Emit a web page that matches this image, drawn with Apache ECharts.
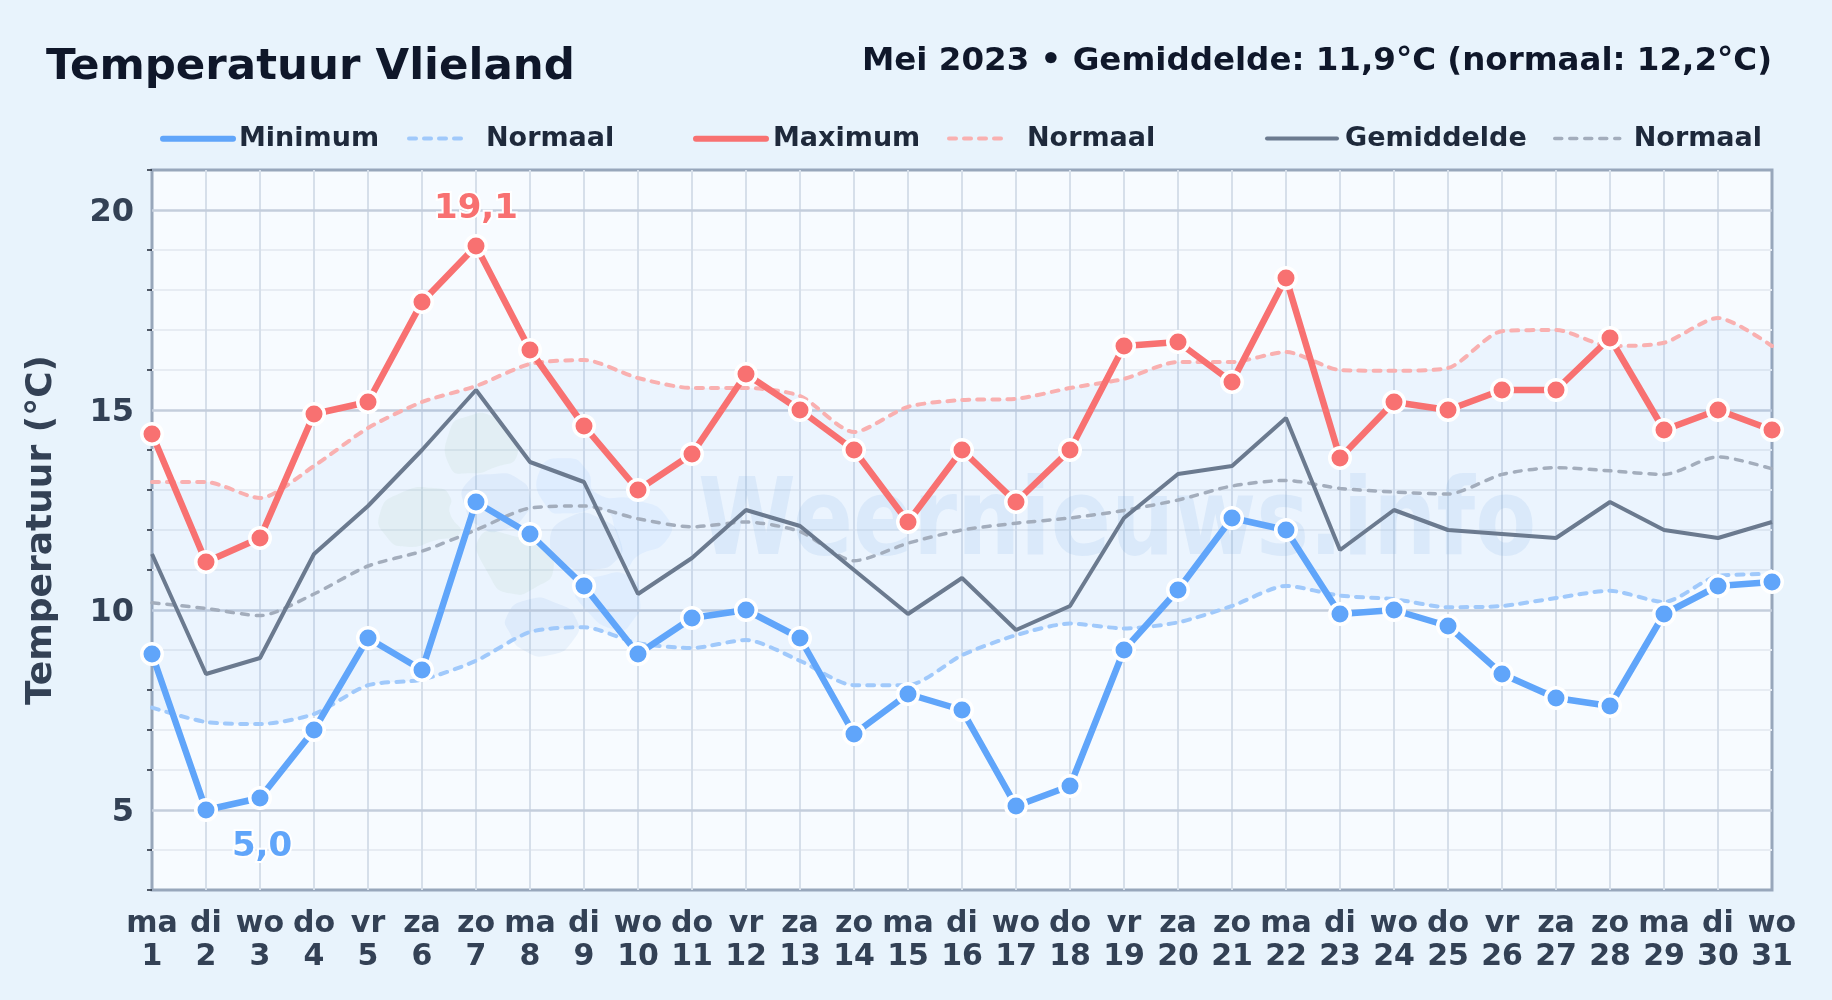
<!DOCTYPE html>
<html>
<head>
<meta charset="utf-8">
<style>html,body{margin:0;padding:0;background:#e8f3fc}#c{width:1832px;height:1000px}</style>
<script src="https://cdn.jsdelivr.net/npm/echarts@6/dist/echarts.min.js"></script>
</head>
<body>
<div id="c"></div>
<script>
const categories = ['ma\n1','di\n2','wo\n3','do\n4','vr\n5','za\n6','zo\n7','ma\n8','di\n9','wo\n10','do\n11','vr\n12','za\n13','zo\n14','ma\n15','di\n16','wo\n17','do\n18','vr\n19','za\n20','zo\n21','ma\n22','di\n23','wo\n24','do\n25','vr\n26','za\n27','zo\n28','ma\n29','di\n30','wo\n31'];
const minimum = [8.9,5.0,5.3,7.0,9.3,8.5,12.7,11.9,10.6,8.9,9.8,10.0,9.3,6.9,7.9,7.5,5.1,5.6,9.0,10.5,12.3,12.0,9.9,10.0,9.6,8.4,7.8,7.6,9.9,10.6,10.7];
const maximum = [14.4,11.2,11.8,14.9,15.2,17.7,19.1,16.5,14.6,13.0,13.9,15.9,15.0,14.0,12.2,14.0,12.7,14.0,16.6,16.7,15.7,18.3,13.8,15.2,15.0,15.5,15.5,16.8,14.5,15.0,14.5];
const gemiddelde = [11.4,8.4,8.8,11.4,12.6,14.0,15.5,13.7,13.2,10.4,11.3,12.5,12.1,11.0,9.9,10.8,9.5,10.1,12.3,13.4,13.6,14.8,11.5,12.5,12.0,11.9,11.8,12.7,12.0,11.8,12.2];
const normaalMin = [7.56,7.2,7.15,7.4,8.12,8.26,8.73,9.45,9.57,9.17,9.05,9.25,8.73,8.12,8.12,8.87,9.37,9.66,9.54,9.69,10.1,10.6,10.36,10.27,10.07,10.1,10.3,10.48,10.2,10.85,10.9];
const normaalMax = [13.2,13.2,12.8,13.6,14.55,15.2,15.6,16.15,16.25,15.8,15.55,15.55,15.35,14.45,15.08,15.25,15.28,15.55,15.78,16.2,16.2,16.45,16.0,15.98,16.05,16.97,17.0,16.6,16.68,17.3,16.6];
const normaalGem = [10.18,10.04,9.86,10.4,11.1,11.47,12.0,12.55,12.6,12.28,12.08,12.2,11.96,11.23,11.67,12.0,12.17,12.3,12.49,12.75,13.1,13.24,13.04,12.95,12.9,13.39,13.56,13.48,13.39,13.83,13.53];
const majorTicks = [5,10,15,20];
const minorTicks = [3,4,6,7,8,9,11,12,13,14,16,17,18,19,21];
const maxLabelDay = 6, minLabelDay = 1;

const FONT = '"DejaVu Sans"';
const fmt = v => v.toFixed(1).replace('.', ',');
const SMOOTH = 0.25;
const DASH = [7, 8];

function mainData(arr, idx, color, labelPos) {
  return arr.map((v, i) => i === idx ? {
    value: v,
    label: Object.assign({ show: true, formatter: p => fmt(p.value), color, fontFamily: FONT, fontWeight: 'bold', fontSize: 34,
      textBorderColor: '#ffffff', textBorderWidth: 4 }, labelPos)
  } : v);
}
function legendAt(name, left, width, pad, lw, dashed) {
  return { data: [name], left, top: 120, itemWidth: width, itemHeight: 32,
    itemStyle: { opacity: 0 }, selectedMode: false, formatter: n => n.split(' ')[0],
    lineStyle: { width: lw, type: dashed ? DASH : 'solid', cap: 'round' },
    textStyle: { fontFamily: FONT, fontWeight: 'bold', fontSize: 27, color: '#1e293b', padding: [0,0,0,pad] } };
}
function blob(points, fill) {
  return { type: 'polygon', z: 1, silent: true, shape: { points, smooth: 0.6 }, style: { fill } };
}
const GREEN = 'rgba(120,180,120,0.075)', BLUE = 'rgba(60,130,215,0.07)', BLUE2 = 'rgba(90,170,250,0.08)';

const chart = echarts.init(document.getElementById('c'));
chart.setOption({
  animation: false,
  backgroundColor: '#e8f3fc',
  title: [
    { text: 'Temperatuur Vlieland', left: 41, top: 41, textStyle: { fontFamily: FONT, fontWeight: 'bold', fontSize: 43.5, color: '#0f172a' } },
    { text: 'Mei 2023 • Gemiddelde: 11,9°C (normaal: 12,2°C)', right: 55, top: 40, textStyle: { fontFamily: FONT, fontWeight: 'bold', fontSize: 32.5, color: '#0f172a' } }
  ],
  legend: [
    legendAt('Minimum', 155, 70, 1, 6, false),
    legendAt('Normaal min', 402, 57, 15, 4, true),
    legendAt('Maximum', 688, 70, 2, 6, false),
    legendAt('Normaal max', 942, 58, 15, 4, true),
    legendAt('Gemiddelde', 1260, 70, 3, 4, false),
    legendAt('Normaal gem', 1548, 65, 9, 3.5, true)
  ],
  grid: { left: 152, right: 60, top: 170, height: 720, show: true, backgroundColor: '#f7fbff', borderColor: '#98a7bb', borderWidth: 3, z: 0 },
  xAxis: {
    type: 'category', data: categories, boundaryGap: false,
    axisLine: { show: false }, axisTick: { show: false },
    axisLabel: { interval: 0, margin: 17, fontFamily: FONT, fontWeight: 'bold', fontSize: 30, lineHeight: 33.5, color: '#334155', hideOverlap: false },
    splitLine: { show: true, interval: 0, showMinLine: false, showMaxLine: false, lineStyle: { color: '#d6dfea', width: 2 } }
  },
  yAxis: {
    type: 'value', min: 3, max: 21, interval: 1,
    name: 'Temperatuur (°C)', nameLocation: 'middle', nameGap: 92, nameRotate: 90,
    nameTextStyle: { fontFamily: FONT, fontWeight: 'bold', fontSize: 36, color: '#334155' },
    axisLine: { show: false },
    axisTick: { show: true, length: 5, customValues: minorTicks, lineStyle: { color: '#1f2937', width: 1.5 } },
    axisLabel: { margin: 18, verticalAlign: 'top', lineHeight: 5, fontFamily: FONT, fontWeight: 'bold', fontSize: 32, color: '#334155', showMinLabel: true, showMaxLabel: true,
      formatter: v => majorTicks.includes(v) ? String(v) : '' },
    splitLine: { show: true, showMinLine: false, showMaxLine: false, lineStyle: { color: '#e7ecf3', width: 2 } }
  },
  graphic: [
    { type: 'group', x: 370, y: 400, scaleX: 1/3, scaleY: 1/3, silent: true, z: 1, children: [
      blob([[240,90],[290,50],[370,50],[420,110],[440,170],[380,200],[300,220],[240,200]], GREEN),
      blob([[30,340],[90,280],[200,265],[240,290],[240,340],[270,400],[200,420],[110,440],[50,410]], GREEN),
      blob([[330,410],[440,410],[520,450],[550,510],[500,560],[420,580],[360,530]], GREEN),
      blob([[290,250],[370,222],[450,240],[480,290],[470,340],[400,390],[330,380],[285,320]], BLUE),
      blob([[510,210],[590,175],[650,210],[680,280],[800,300],[890,350],[890,420],[800,470],[770,500],[740,400],[700,330],[600,340],[530,320]], BLUE2),
      blob([[600,350],[700,360],[750,420],[740,480],[660,510],[600,500],[540,430]], BLUE),
      blob([[620,560],[680,530],[780,530],[810,600],[790,660],[740,690],[640,620]], BLUE2),
      blob([[410,650],[470,600],[560,610],[620,660],[610,720],[540,765],[460,750],[420,700]], BLUE)
    ] },
    { type: 'text', z: 1, silent: true, x: 698, y: 473, scaleX: 0.83,
      style: { text: 'Weernieuws.info', font: 'bold 107px "DejaVu Sans"', fill: 'rgba(80,150,215,0.10)' } }
  ],
  series: [
    { name: 'bandBase', type: 'line', stack: 'band', data: normaalMin, symbol: 'none', smooth: SMOOTH, lineStyle: { opacity: 0 }, silent: true, z: 2,
      markLine: { silent: true, symbol: 'none', z: 1, label: { show: false }, lineStyle: { color: '#c4cedc', width: 2.5, type: 'solid' }, data: majorTicks.map(v => ({ yAxis: v })) } },
    { name: 'bandDiff', type: 'line', stack: 'band', data: normaalMax.map((v, i) => v - normaalMin[i]), symbol: 'none', smooth: SMOOTH, lineStyle: { opacity: 0 }, areaStyle: { color: 'rgba(59,130,246,0.085)' }, silent: true, z: 2 },
    { name: 'Normaal min', type: 'line', data: normaalMin, symbol: 'none', smooth: SMOOTH, z: 3, lineStyle: { color: '#a0c9fb', width: 4, type: DASH, cap: 'round' } },
    { name: 'Normaal max', type: 'line', data: normaalMax, symbol: 'none', smooth: SMOOTH, z: 3, lineStyle: { color: '#f9b0b0', width: 4, type: DASH, cap: 'round' } },
    { name: 'Normaal gem', type: 'line', data: normaalGem, symbol: 'none', smooth: SMOOTH, z: 3, lineStyle: { color: '#a3adbc', width: 3.5, type: DASH, cap: 'round' } },
    { name: 'Gemiddelde', type: 'line', data: gemiddelde, symbol: 'none', z: 4, lineStyle: { color: '#6b7a8f', width: 4 } },
    { name: 'Minimum', type: 'line', data: mainData(minimum, minLabelDay, '#60a5fa', { position: 'bottom', distance: 8, offset: [56, 0] }), symbol: 'circle', symbolSize: 20.5, showAllSymbol: true, z: 5,
      lineStyle: { color: '#60a5fa', width: 6.5, cap: 'round' }, itemStyle: { color: '#60a5fa', borderColor: '#ffffff', borderWidth: 3.5 } },
    { name: 'Maximum', type: 'line', data: mainData(maximum, maxLabelDay, '#f87171', { position: 'top', distance: 8, offset: [0, 0] }), symbol: 'circle', symbolSize: 20.5, showAllSymbol: true, z: 5,
      lineStyle: { color: '#f87171', width: 6.5, cap: 'round' }, itemStyle: { color: '#f87171', borderColor: '#ffffff', borderWidth: 3.5 } }
  ]
});
</script>
</body>
</html>
